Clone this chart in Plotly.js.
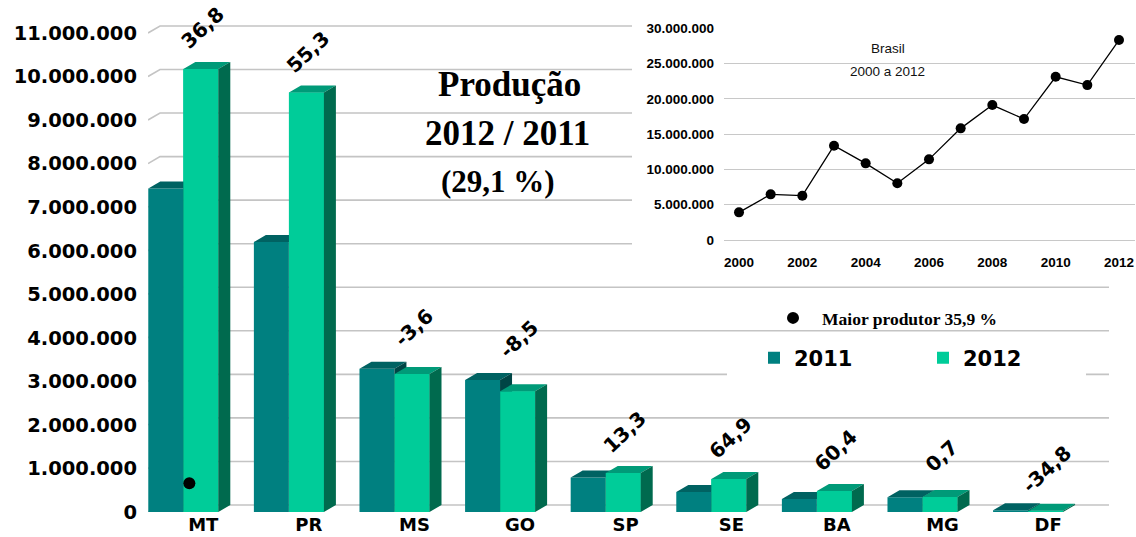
<!DOCTYPE html>
<html><head><meta charset="utf-8">
<script src="https://cdn.plot.ly/plotly-3.0.1.min.js"></script>
<style>html,body{margin:0;padding:0;background:#fff}#chart{width:1136px;height:537px}</style>
</head><body><div id="chart"></div>
<script>
// ---------- data ----------
const categories = ['MT','PR','MS','GO','SP','SE','BA','MG','DF'];
const prod2011 = [7430000, 6200000, 3290000, 3030000, 790000, 460000, 300000, 340000, 40000];
const prod2012 = [10170000, 9630000, 3170000, 2775000, 895000, 760000, 480000, 342000, 26000];
const variacao = [36.8, 55.3, -3.6, -8.5, 13.3, 64.9, 60.4, 0.7, -34.8];
const seriesNames = ['2011', '2012'];
const anosBrasil = [2000, 2001, 2002, 2003, 2004, 2005, 2006, 2007, 2008, 2009, 2010, 2011, 2012];
const prodBrasil = [3920000, 6470000, 6280000, 13360000, 10860000, 8030000, 11430000, 15820000, 19120000, 17140000, 23130000, 21950000, 28330000];
const tituloLinhas = ['Produção', '2012 / 2011', '(29,1 %)'];
const insetTitulo = ['Brasil', '2000 a 2012'];
const maiorProdutorLabel = 'Maior produtor 35,9 %';

// ---------- layout geometry (pixels) ----------
const W = 1136, H = 537;
const catPx = 105.6, cat0Px = 203.3, plotL = 148, plotR = 1109;
const zeroPx = 512, pxPerVal = 43.55 / 1e6, yMax = 11.2e6;
const dxPx = 12, dyPx = 7;
const xd = px => (px - cat0Px) / catPx;
const yPix = v => zeroPx - v * pxPerVal;
const dx = dxPx / catPx, dy = dyPx / pxPerVal;
const off11 = -0.521, off12 = -0.189, bw = 0.331;

const col = {
  f11: '#008080', t11: '#006262', s11: '#004545',
  f12: '#00CC99', t12: '#009a78', s12: '#006a4e'
};

function faces(vals, off, kind) {
  const xs = [], ys = [];
  vals.forEach((v, i) => {
    const x0 = i + off, x1 = x0 + bw;
    if (kind === 'top') { xs.push(x0, x1, x1 + dx, x0 + dx, x0, null); ys.push(v, v, v + dy, v + dy, v, null); }
    if (kind === 'side') { xs.push(x1, x1 + dx, x1 + dx, x1, x1, null); ys.push(0, dy, v + dy, v, 0, null); }
    if (kind === 'front') { xs.push(x0, x1, x1, x0, x0, null); ys.push(0, 0, v, v, 0, null); }
  });
  return {xs, ys};
}
function poly(f, color) {
  return {type: 'scatter', mode: 'lines', x: f.xs, y: f.ys, fill: 'toself', fillcolor: color,
    line: {width: 0, color: color}, hoverinfo: 'skip', showlegend: false, xaxis: 'x', yaxis: 'y'};
}

const traces = [];
traces.push({type: 'bar', name: seriesNames[0], x: categories.map((c, i) => i), y: prod2011,
  offset: off11, width: bw, marker: {color: col.f11, line: {width: 0}}, xaxis: 'x', yaxis: 'y'});
traces.push({type: 'bar', name: seriesNames[1], x: categories.map((c, i) => i), y: prod2012,
  offset: off12, width: bw, marker: {color: col.f12, line: {width: 0}}, xaxis: 'x', yaxis: 'y'});
traces.push(poly(faces(prod2011, off11, 'top'), col.t11));
traces.push(poly(faces(prod2011, off11, 'side'), col.s11));
traces.push(poly(faces(prod2012, off12, 'front'), col.f12));
traces.push(poly(faces(prod2012, off12, 'top'), col.t12));
traces.push(poly(faces(prod2012, off12, 'side'), col.s12));

// marker of the largest producer
const idxMax = prod2012.indexOf(Math.max(...prod2012));
traces.push({type: 'scatter', mode: 'markers', name: maiorProdutorLabel, legend: 'legend2',
  x: [idxMax + off12 + 6 / catPx], y: [yMax * 0.059], marker: {color: '#000', size: 12},
  xaxis: 'x', yaxis: 'y', hoverinfo: 'skip'});

// inset
traces.push({type: 'scatter', mode: 'lines+markers', x: anosBrasil, y: prodBrasil, xaxis: 'x2', yaxis: 'y2',
  line: {color: '#000', width: 1.3}, marker: {color: '#000', size: 10}, showlegend: false});

// ---------- back-wall gridlines (shapes) ----------
const insetBox = {l: 632, b: 276};
const legendBox = {l: 727, r: 1086, t: 340, b: 384};
const shapes = [];
for (let v = 0; v <= 11e6; v += 1e6) {
  const py = yPix(v) - dyPx;
  const xa = xd(plotL), xb = xa + dx;
  let segs;
  if (py < insetBox.b) segs = [[xb, xd(insetBox.l)]];
  else if (py > legendBox.t && py < legendBox.b) segs = [[xb, xd(legendBox.l)], [xd(legendBox.r), xd(plotR)]];
  else segs = [[xb, xd(plotR)]];
  let path = `M ${xa} ${v} L ${xb} ${v + dy} L ${segs[0][1]} ${v + dy}`;
  if (segs.length > 1) path += ` M ${segs[1][0]} ${v + dy} L ${segs[1][1]} ${v + dy}`;
  shapes.push({type: 'path', xref: 'x', yref: 'y', path, layer: 'below', line: {color: '#c4c4c4', width: 1.6}});
}

// ---------- annotations ----------
const annotations = [];
variacao.forEach((p, i) => {
  annotations.push({xref: 'x', yref: 'y', x: i, y: Math.max(prod2011[i], prod2012[i]), yshift: 41, xshift: -1,
    text: p.toFixed(1).replace('.', ','), textangle: -43, showarrow: false, xanchor: 'center', yanchor: 'middle',
    font: {family: 'DejaVu Sans', size: 20, color: '#000', weight: 'bold'}});
});
const tituloPos = [[509, 84], [507, 134], [498, 181]];
const tituloSize = [35, 35, 31];
tituloLinhas.forEach((t, k) => {
  annotations.push({xref: 'paper', yref: 'paper', x: tituloPos[k][0] / W, y: 1 - tituloPos[k][1] / H, text: t,
    showarrow: false, xanchor: 'center', yanchor: 'middle',
    font: {family: 'Liberation Serif', size: tituloSize[k], color: '#000', weight: 'bold'}});
});
const insetPos = [[888, 49], [887, 71]];
insetTitulo.forEach((t, k) => {
  annotations.push({xref: 'paper', yref: 'paper', x: insetPos[k][0] / W, y: 1 - insetPos[k][1] / H, text: t,
    showarrow: false, xanchor: 'center', yanchor: 'middle',
    font: {family: 'Liberation Sans', size: 13.5, color: '#111'}});
});

// inset geometry
const ix0 = 724, ix1 = 1135, iy0 = 240, iy1 = 28.3;
const pxPerYr = (1119 - 739) / 12;

const layout = {
  width: W, height: H, margin: {l: 0, r: 0, t: 0, b: 0},
  paper_bgcolor: '#fff', plot_bgcolor: 'rgba(0,0,0,0)', separators: ',.',
  showlegend: true, barmode: 'overlay',
  xaxis: {domain: [plotL / W, plotR / W], range: [xd(plotL), xd(plotR)], tickmode: 'array',
    tickvals: categories.map((c, i) => i), ticktext: categories, showgrid: false, zeroline: false, showline: false,
    ticks: '', ticklabelstandoff: 0, tickfont: {family: 'DejaVu Sans', size: 18, color: '#000', weight: 'bold'}, fixedrange: true},
  yaxis: {domain: [1 - zeroPx / H, 1 - yPix(yMax) / H], range: [0, yMax], dtick: 1e6, tick0: 0, tickformat: ',d',
    showgrid: false, zeroline: false, showline: false, ticks: '', ticklabelstandoff: 10,
    tickfont: {family: 'DejaVu Sans', size: 19.5, color: '#000', weight: 'bold'}, fixedrange: true},
  xaxis2: {anchor: 'y2', domain: [ix0 / W, ix1 / W], range: [2000 - (739 - ix0) / pxPerYr, 2012 + (ix1 - 1119) / pxPerYr],
    dtick: 2, tick0: 2000, showgrid: false, zeroline: false, showline: false, ticks: '', ticklabelstandoff: 12,
    tickfont: {family: 'Liberation Sans', size: 13.5, color: '#000', weight: 'bold'}},
  yaxis2: {anchor: 'x2', domain: [1 - iy0 / H, 1 - iy1 / H], range: [0, 30e6], dtick: 5e6, tick0: 0, tickformat: ',d',
    showgrid: true, gridcolor: '#c8c8c8', gridwidth: 1, zeroline: true, zerolinecolor: '#c8c8c8', zerolinewidth: 1,
    ticks: '', ticklabelstandoff: 9, tickfont: {family: 'Liberation Sans', size: 13.5, color: '#000', weight: 'bold'}},
  legend: {orientation: 'h', x: (774 - 20) / W, xanchor: 'left', y: 1 - 358 / H, yanchor: 'middle',
    bgcolor: 'rgba(0,0,0,0)', borderwidth: 0, entrywidth: 124, entrywidthmode: 'pixels', traceorder: 'normal',
    font: {family: 'DejaVu Sans', size: 21, color: '#000', weight: 'bold'}},
  legend2: {x: (793 - 29) / W, xanchor: 'left', y: 1 - 318 / H, yanchor: 'middle', itemwidth: 48,
    bgcolor: 'rgba(0,0,0,0)', borderwidth: 0,
    font: {family: 'Liberation Serif', size: 17.5, color: '#000', weight: 'bold'}},
  shapes, annotations
};

Plotly.newPlot('chart', traces, layout, {displayModeBar: false, staticPlot: true});
</script></body></html>
